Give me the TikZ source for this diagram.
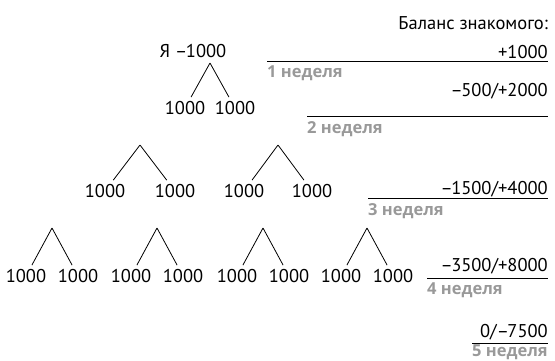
\documentclass[tikz,border=0pt]{standalone}
\usepackage{fontspec}
\setmainfont{PT Sans}
\newfontfamily\weekfamily{Open Sans}
\definecolor{weekgray}{RGB}{153,153,153}
\newcommand{\amountfont}{\fontsize{18.5}{20}\selectfont}
\newcommand{\weekfont}{\weekfamily\fontsize{16.5}{18}\selectfont\bfseries}
\newcommand{\mn}{–\kern-1.5pt}

\begin{document}
\begin{tikzpicture}[
    x=1pt, y=-1pt,
    every child node/.style={
        inner xsep=0pt,
        inner ysep=4pt,
        font=\amountfont,
    },
    edge from parent/.style={draw, line width=0.8pt},
    sum/.style={anchor=base east, inner sep=0pt, font=\amountfont},
    week/.style={anchor=north west, inner sep=0pt, font=\weekfont, text=weekgray},
    bar/.style={line width=1pt},
    ]
    \useasboundingbox (0,0) rectangle (555,360);

    % who gave money to whom
    \node[anchor=base, inner sep=0pt, font=\amountfont] (me) at (193,57) {Я \mn1000};
    \path[level distance=45pt, sibling distance=50pt]
        (210,63) coordinate (top1)
        child { node (n1a) {1000} }
        child { node (n1b) {1000} };

    \path[level distance=46pt, sibling distance=70pt]
        (140,145) coordinate (top2a)
        child { node (n2a) {1000} }
        child { node (n2b) {1000} };
    \path[level distance=46pt, sibling distance=68pt]
        (278,145) coordinate (top2b)
        child { node (n2c) {1000} }
        child { node (n2d) {1000} };

    \path[level distance=48pt, sibling distance=52pt]
        (52,228) coordinate (top3a)
        child { node (n3a) {1000} }
        child { node (n3b) {1000} };
    \path[level distance=48pt, sibling distance=52pt]
        (157,228) coordinate (top3b)
        child { node (n3c) {1000} }
        child { node (n3d) {1000} };
    \path[level distance=48pt, sibling distance=52pt]
        (263,228) coordinate (top3c)
        child { node (n3e) {1000} }
        child { node (n3f) {1000} };
    \path[level distance=48pt, sibling distance=52pt]
        (367,228) coordinate (top3d)
        child { node (n3g) {1000} }
        child { node (n3h) {1000} };

    % balance per week
    \node[sum] (head) at (548,29) {Баланс знакомого:};

    \node[sum] (s1) at (548,58) {+1000};
    \coordinate (b1) at (267,61);
    \draw[bar] (b1) -- (b1 -| s1.east);
    \node[week] (wk1) at (267,66) {1 неделя};

    \node[sum] (s2) at (548,96) {\mn500/+2000};
    \coordinate (b2) at (307,116);
    \draw[bar] (b2) -- (b2 -| s2.east);
    \node[week] (wk2) at (307,121) {2 неделя};

    \node[sum] (s3) at (548,194) {\mn1500/+4000};
    \coordinate (b3) at (368,198);
    \draw[bar] (b3) -- (b3 -| s3.east);
    \node[week] (wk3) at (368,203) {3 неделя};

    \node[sum] (s4) at (548,271) {\mn3500/+8000};
    \coordinate (b4) at (427,278);
    \draw[bar] (b4) -- (b4 -| s4.east);
    \node[week] (wk4) at (427,283) {4 неделя};

    \node[sum] (s5) at (548,337) {0/\mn7500};
    \coordinate (b5) at (472,343);
    \draw[bar] (b5) -- (b5 -| s5.east);
    \node[week] (wk5) at (472,345) {5 неделя};
\end{tikzpicture}
\end{document}
